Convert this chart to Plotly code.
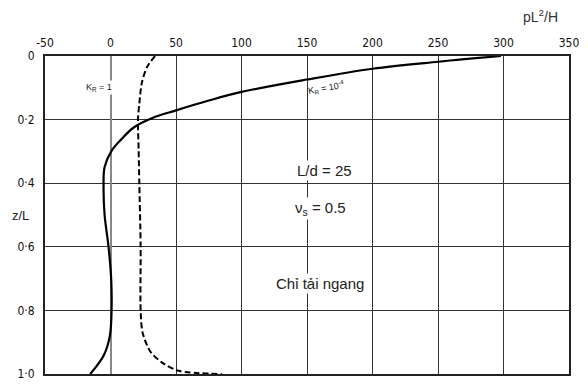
import plotly.graph_objects as go

# K_R = 10^-4 (solid)
p_kr4 = [298, 250, 200, 150, 100, 75, 50, 32, 18, 8, 1, -4.5, -5.3, -4.5, -1.5, 0.5, 0.8, -0.5, -5, -15.5]
z_kr4 = [0.0, 0.018, 0.04, 0.074, 0.113, 0.14, 0.171, 0.195, 0.224, 0.263, 0.297, 0.349, 0.41, 0.5, 0.6, 0.7, 0.8, 0.88, 0.94, 1.0]

# K_R = 1 (dashed)
p_kr1 = [34, 28, 24, 22, 21, 21.5, 22, 23, 23, 24.5, 30.5, 40, 52, 85]
z_kr1 = [0.0, 0.034, 0.083, 0.15, 0.2, 0.3, 0.4, 0.6, 0.8, 0.87, 0.93, 0.966, 0.99, 1.0]

x_ticks = [-50, 0, 50, 100, 150, 200, 250, 300, 350]
x_labels = ["-50", "0", "50", "100", "150", "200", "250", "300", "350"]
y_ticks = [0, 0.2, 0.4, 0.6, 0.8, 1.0]
y_labels = ["0", "0·2", "0·4", "0·6", "0·8", "1·0"]

fig = go.Figure()
fig.add_trace(go.Scatter(x=p_kr4, y=z_kr4, mode="lines", line=dict(color="black", width=2.2, shape="spline", smoothing=1.0), showlegend=False))
fig.add_trace(go.Scatter(x=p_kr1, y=z_kr1, mode="lines", line=dict(color="black", width=2, dash="6px,3px", shape="spline", smoothing=0.8), showlegend=False))

tickfont = dict(family="Liberation Sans Narrow, DejaVu Sans Condensed, Arial", size=12, color="#111")
fig.update_xaxes(range=[-50, 350], side="top", tickvals=x_ticks, ticktext=x_labels, tickfont=tickfont,
                 showgrid=True, gridcolor="#333", gridwidth=1.3, zeroline=True, zerolinecolor="#888", zerolinewidth=1.5,
                 showline=True, linecolor="#222", linewidth=2, mirror=True, ticks="", ticklabelstandoff=2)
fig.update_yaxes(range=[1.0, 0], tickvals=y_ticks, ticktext=y_labels, tickfont=tickfont,
                 showgrid=True, gridcolor="#333", gridwidth=1.3, zeroline=False,
                 showline=True, linecolor="#222", linewidth=2, mirror=True, ticks="", ticklabelstandoff=6)

ann_font = dict(family="Arial, Liberation Sans", size=15, color="#222")
fig.add_annotation(x=-9, y=0.1, text="K<sub>R</sub> = 1", showarrow=False, font=dict(family="Liberation Sans Narrow, Arial", size=9, color="#222"), bgcolor="white")
fig.add_annotation(x=165, y=0.1, text="K<sub>R</sub> = 10<sup>-4</sup>", showarrow=False, textangle=-10, font=dict(family="Liberation Sans Narrow, Arial", size=9, color="#222"))
fig.add_annotation(x=163, y=0.36, text="L/d = 25", showarrow=False, font=ann_font, bgcolor="white")
fig.add_annotation(x=160, y=0.48, text="ν<sub>s</sub> = 0.5", showarrow=False, font=ann_font, bgcolor="white")
fig.add_annotation(x=160, y=0.715, text="Chỉ tải ngang", showarrow=False, font=ann_font, bgcolor="white")
fig.add_annotation(xref="paper", yref="paper", x=0.945, y=1.09, text="pL<sup>2</sup>/H", showarrow=False,
                   font=dict(family="Arial, Liberation Sans", size=14, color="#333"), xanchor="center", yanchor="bottom")
fig.add_annotation(xref="paper", yref="paper", x=-0.047, y=0.5, text="z/L", showarrow=False,
                   font=dict(family="Arial, Liberation Sans", size=13, color="#222"), xanchor="center")

fig.update_layout(width=588, height=390, margin=dict(l=45, r=16, t=56, b=9),
                  plot_bgcolor="white", paper_bgcolor="white")
fig.write_html("out.html")
